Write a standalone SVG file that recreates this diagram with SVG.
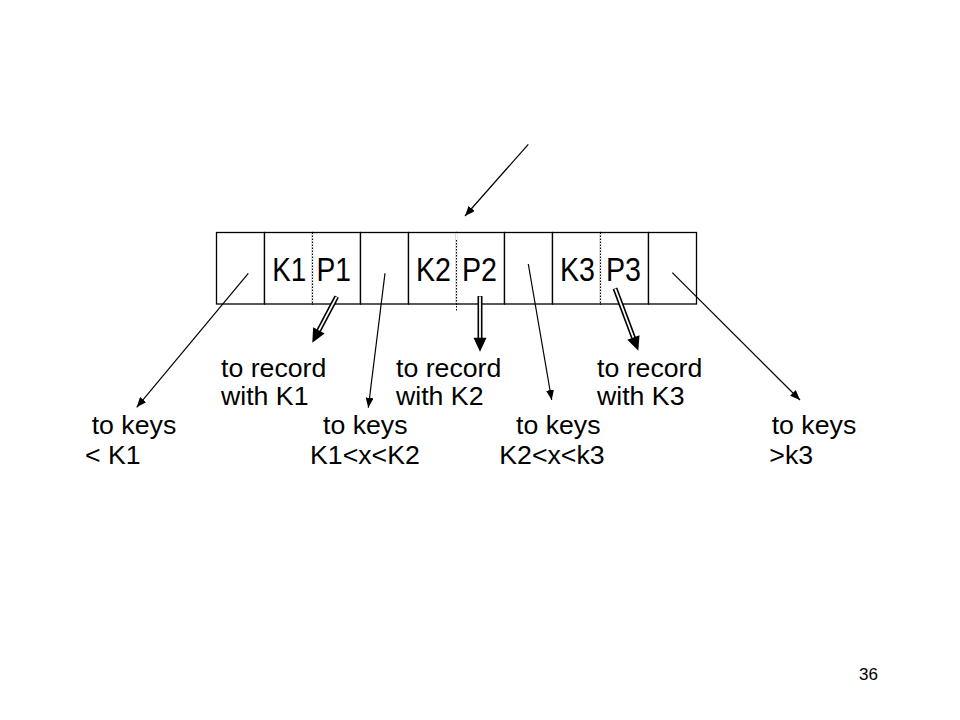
<svg xmlns="http://www.w3.org/2000/svg" xmlns:xlink="http://www.w3.org/1999/xlink" width="960" height="720" viewBox="0 0 960 720">
<style>
text{font-family:"Liberation Sans",Arial,sans-serif;fill:#000}
.big{font-size:26.7px}
.key{font-size:33px}
.num{font-size:17px}
.cell{fill:#fff;stroke:#000;stroke-width:1.3}
.dot{stroke:#000;stroke-width:1;stroke-dasharray:1.5 1.5;fill:none}
.thin{stroke:#000;stroke-width:1.2;fill:none;marker-end:url(#ah)}
.dblo{stroke:#000;stroke-width:5;fill:none}
.dbli{stroke:#fff;stroke-width:1.8;fill:none}
</style>
<defs>
<marker id="ah" markerUnits="userSpaceOnUse" markerWidth="11" markerHeight="8" refX="10" refY="4" orient="auto">
<path d="M0,0 L10,4 L0,8 z" fill="#000"/>
</marker>
<path id="dh" d="M-6.5,-14 L6.5,-14 L0,0 z" fill="#000"/>
</defs>
<rect width="960" height="720" fill="#fff"/>

<g id="node-array">
<g id="cell-p0"><rect class="cell" x="216.5" y="232.5" width="48" height="71.5"/></g>
<g id="cell-k1"><rect class="cell" x="264.5" y="232.5" width="48" height="71.5"/><text class="key" x="272.2" y="280.7" textLength="34" lengthAdjust="spacingAndGlyphs">K1</text></g>
<g id="cell-p1"><rect class="cell" x="312.5" y="232.5" width="48" height="71.5"/><text class="key" x="316.5" y="280.7" textLength="34.5" lengthAdjust="spacingAndGlyphs">P1</text></g>
<g id="cell-q1"><rect class="cell" x="360.5" y="232.5" width="48" height="71.5"/></g>
<g id="cell-k2"><rect class="cell" x="408.5" y="232.5" width="48" height="71.5"/><text class="key" x="416" y="280.7" textLength="35" lengthAdjust="spacingAndGlyphs">K2</text></g>
<g id="cell-p2"><rect class="cell" x="456.5" y="232.5" width="48" height="71.5"/><text class="key" x="462" y="280.7" textLength="35" lengthAdjust="spacingAndGlyphs">P2</text></g>
<g id="cell-q2"><rect class="cell" x="504.5" y="232.5" width="48" height="71.5"/></g>
<g id="cell-k3"><rect class="cell" x="552.5" y="232.5" width="48" height="71.5"/><text class="key" x="560" y="280.7" textLength="35" lengthAdjust="spacingAndGlyphs">K3</text></g>
<g id="cell-p3"><rect class="cell" x="600.5" y="232.5" width="48" height="71.5"/><text class="key" x="606" y="280.7" textLength="35" lengthAdjust="spacingAndGlyphs">P3</text></g>
<g id="cell-q3"><rect class="cell" x="648.5" y="232.5" width="48" height="71.5"/></g>
<rect x="311.5" y="233.2" width="2" height="70" fill="#fff"/>
<rect x="599.5" y="233.2" width="2" height="70" fill="#fff"/>
<rect x="455.5" y="233.2" width="2" height="70" fill="#fff"/>
<line class="dot" x1="312.5" y1="232.5" x2="312.5" y2="304"/>
<line class="dot" x1="600.5" y1="232.5" x2="600.5" y2="304"/>
<line class="dot" x1="456.5" y1="240" x2="456.5" y2="312"/>
</g>

<g id="labels">
<g id="rec1"><text class="big" x="221" y="377.3">to record</text><text class="big" x="221" y="405">with K1</text></g>
<g id="rec2"><text class="big" x="396" y="377.3">to record</text><text class="big" x="396" y="405">with K2</text></g>
<g id="rec3"><text class="big" x="597" y="377.3">to record</text><text class="big" x="597" y="405">with K3</text></g>
<g id="keys0"><text class="big" x="91.7" y="434">to keys</text><text class="big" x="85" y="464">&lt; K1</text></g>
<g id="keys1"><text class="big" x="323" y="434">to keys</text><text class="big" x="310" y="464">K1&lt;x&lt;K2</text></g>
<g id="keys2"><text class="big" x="516" y="434">to keys</text><text class="big" x="499.3" y="464">K2&lt;x&lt;k3</text></g>
<g id="keys3"><text class="big" x="771.7" y="434">to keys</text><text class="big" x="769.3" y="464">&gt;k3</text></g>
<text class="num" x="878" y="679.5" text-anchor="end">36</text>
</g>

<g id="connectors">
<line class="thin" x1="528.3" y1="144.3" x2="465" y2="216"/>
<line class="thin" x1="248.3" y1="273.3" x2="136.7" y2="407.3"/>
<line class="thin" x1="385" y1="273.3" x2="368.3" y2="407.7"/>
<line class="thin" x1="528.3" y1="264" x2="551.7" y2="400"/>
<line class="thin" x1="672.3" y1="272.7" x2="800" y2="400"/>
<g transform="translate(336.7,296.7) rotate(27.9)">
<line class="dblo" x1="0" y1="0" x2="0" y2="39"/><line class="dbli" x1="0" y1="0.5" x2="0" y2="39"/><use xlink:href="#dh" transform="translate(0,52.1)"/>
</g>
<g transform="translate(480,296)">
<line class="dblo" x1="0" y1="0" x2="0" y2="42"/><line class="dbli" x1="0" y1="0.5" x2="0" y2="42"/><use xlink:href="#dh" transform="translate(0,55.7)"/>
</g>
<g transform="translate(615,288.3) rotate(-20.5)">
<line class="dblo" x1="0" y1="0" x2="0" y2="53"/><line class="dbli" x1="0" y1="0.5" x2="0" y2="53"/><use xlink:href="#dh" transform="translate(0,66.6)"/>
</g>
</g>
</svg>
